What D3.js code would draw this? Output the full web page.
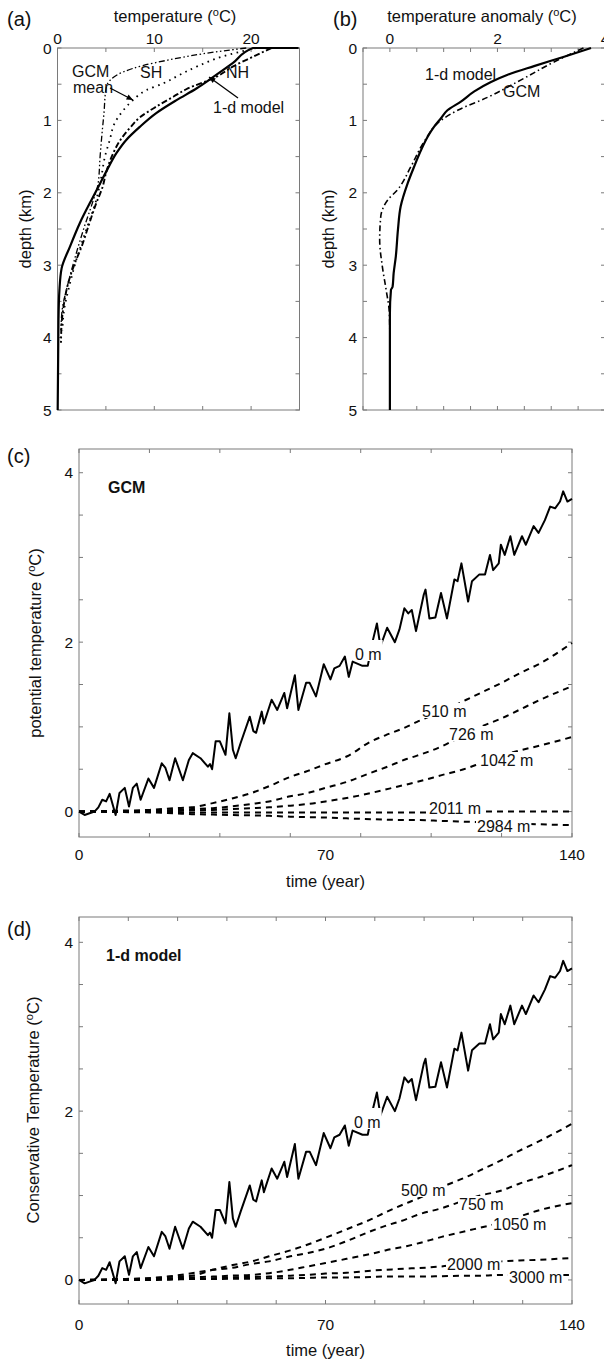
<!DOCTYPE html>
<html><head><meta charset="utf-8">
<script src="https://cdn.jsdelivr.net/npm/d3@7"></script>
<style>body{margin:0;background:#fff}svg{display:block}text{font-family:"Liberation Sans",Arial,Helvetica,sans-serif;fill:#111}</style>
</head><body><svg id="c" width="604" height="1363"></svg>
<script>
// ---------- DATA ----------
// Panel (a): temperature (degC) vs depth (km)
const aModel = [[24.9,0],[20.2,0],[18.1,0.21],[16.1,0.40],[14.35,0.56],[12.3,0.72],[10.2,0.90],[8.5,1.09],[7.1,1.27],[6.1,1.45],[5.1,1.69],[4.4,1.87],[3.7,2.05],[2.3,2.42],[1.3,2.74],[0.43,3.04],[0.2,3.34],[0.1,3.76],[0.02,5.0]];
const aNH = [[22.1,0],[20.2,0.12],[18.2,0.25],[16.4,0.40],[13.3,0.57],[12.0,0.67],[10.2,0.81],[8.5,0.96],[7.5,1.1],[6.5,1.27],[5.6,1.5],[5.0,1.73],[4.7,1.9],[3.9,2.18],[3.1,2.5],[2.5,2.74],[1.8,2.97],[1.1,3.25],[0.67,3.53],[0.43,3.8],[0.36,4.07]];
const aMean = [[20.5,0],[17,0.12],[14.5,0.25],[12.5,0.38],[10.9,0.49],[9.2,0.58],[7.8,0.72],[6.8,0.86],[5.9,1.04],[5.4,1.27],[4.9,1.5],[4.5,1.8],[4.0,2.1],[3.0,2.5],[2.0,2.9],[1.2,3.3],[0.7,3.6],[0.5,3.9]];
const aSH = [[19.5,0],[15,0.08],[11.3,0.17],[8.9,0.24],[6.8,0.33],[5.4,0.45],[5.0,0.57],[4.8,0.9],[4.6,1.18],[4.4,1.5],[4.2,1.87],[3.7,2.1],[2.7,2.5],[1.8,2.9],[1.0,3.3],[0.5,3.6],[0.35,3.9]];
// Panel (b): temperature anomaly (degC) vs depth (km)
const bModel = [[3.74,0],[3.24,0.12],[2.68,0.25],[2.19,0.37],[1.88,0.47],[1.57,0.60],[1.32,0.74],[1.07,0.86],[0.95,0.97],[0.82,1.09],[0.70,1.23],[0.58,1.41],[0.45,1.64],[0.33,1.87],[0.20,2.19],[0.15,2.51],[0.11,2.88],[0.07,3.11],[0.05,3.30],[0.02,3.34],[0.0,3.67],[0.0,5.0]];
const bGCM = [[3.6,0],[3.06,0.19],[2.44,0.44],[1.82,0.68],[1.26,0.86],[0.95,1.0],[0.64,1.29],[0.39,1.64],[0.14,1.96],[-0.04,2.1],[-0.17,2.33],[-0.19,2.65],[-0.14,3.02],[-0.07,3.34],[-0.01,3.66],[0.0,4.03]];
// Panels (c),(d): time (year) and temperature (degC)
const surfT = [0,1.6,3,4.4,5.5,6.6,7.7,8.7,10.4,11.5,13,14.2,15.3,16.4,17.5,19.7,21.3,23.5,24.5,25.7,27.3,29.5,31.2,32.3,34.5,36.6,37.2,37.8,38.8,40,41.6,42.7,43.7,44.5,45.9,48.5,49.5,50.3,51.9,52.5,54.7,56.3,58.3,59.1,61.3,62.3,64.5,65.5,67.3,69.5,71.4,72.5,74,75.5,76.6,77.7,80.5,82,83.5,84.6,85.6,87.5,89.7,91,92.4,93.5,94.5,95.7,97.9,98.4,99.5,101.2,102.8,104.5,106.6,107.5,108.6,110.5,111.6,113.7,115.3,116.7,117.6,119.2,119.8,120.9,122.5,123.6,125.8,126.9,129.1,130.5,132.3,133.8,135.2,136.6,137.5,138.7,140];
const surfV = [0,-0.04,-0.02,0,0.05,0.14,0.12,0.21,-0.04,0.22,0.28,0.06,0.28,0.33,0.14,0.39,0.28,0.57,0.52,0.37,0.63,0.37,0.61,0.69,0.63,0.53,0.56,0.50,0.83,0.83,0.67,1.16,0.73,0.63,0.81,1.12,0.95,0.93,1.18,1.04,1.32,1.2,1.40,1.22,1.61,1.2,1.52,1.52,1.36,1.74,1.56,1.69,1.72,1.83,1.59,1.77,1.72,1.72,2.03,2.22,1.95,2.17,2.0,2.15,2.40,2.34,2.38,2.13,2.56,2.62,2.28,2.29,2.58,2.28,2.74,2.72,2.93,2.48,2.72,2.80,2.80,3.03,2.85,2.93,3.15,3.03,3.25,3.03,3.25,3.15,3.37,3.29,3.44,3.6,3.58,3.66,3.78,3.66,3.69];
const deepT = [0,10,20,27,32,38,43,49,54,60,65,70,76,83,87,93,96,103,110,114,120,125,131,140];
const c510 = [0,0.01,0.02,0.04,0.05,0.10,0.15,0.22,0.30,0.41,0.48,0.56,0.65,0.83,0.90,1.0,1.06,1.18,1.32,1.40,1.52,1.63,1.75,1.99];
const c726 = [0,0.005,0.01,0.02,0.03,0.04,0.06,0.09,0.12,0.18,0.22,0.28,0.35,0.46,0.52,0.62,0.66,0.77,0.92,1.0,1.10,1.20,1.32,1.48];
const c1042 = [0,0,0.005,0.01,0.015,0.02,0.03,0.04,0.05,0.07,0.09,0.12,0.16,0.22,0.26,0.32,0.35,0.43,0.51,0.57,0.66,0.72,0.78,0.88];
const c2011 = [0,0,-0.005,-0.005,-0.01,-0.01,-0.01,-0.01,-0.01,-0.01,-0.01,-0.01,-0.01,-0.01,-0.01,-0.01,-0.01,-0.01,-0.005,0,0,0,0,0];
const c2984 = [0,-0.005,-0.01,-0.02,-0.03,-0.035,-0.04,-0.045,-0.05,-0.06,-0.065,-0.07,-0.08,-0.09,-0.095,-0.10,-0.10,-0.11,-0.12,-0.125,-0.13,-0.14,-0.15,-0.16];
const d500 = [0,0.01,0.02,0.04,0.05,0.12,0.17,0.22,0.28,0.35,0.42,0.50,0.60,0.72,0.80,0.91,0.96,1.10,1.22,1.30,1.42,1.53,1.65,1.85];
const d750 = [0,0.005,0.02,0.05,0.08,0.12,0.14,0.19,0.22,0.28,0.32,0.37,0.46,0.58,0.64,0.72,0.77,0.85,0.95,1.0,1.06,1.14,1.22,1.36];
const d1050 = [0,0,0.01,0.02,0.03,0.04,0.05,0.06,0.08,0.12,0.16,0.20,0.25,0.31,0.35,0.40,0.43,0.51,0.58,0.62,0.68,0.75,0.83,0.91];
const d2000 = [0,0,0.005,0.01,0.01,0.02,0.03,0.035,0.04,0.05,0.06,0.075,0.085,0.11,0.12,0.135,0.14,0.16,0.19,0.20,0.22,0.23,0.24,0.26];
const d3000 = [0,0,0,0.005,0.01,0.01,0.015,0.015,0.02,0.02,0.025,0.03,0.03,0.035,0.04,0.04,0.04,0.045,0.05,0.05,0.06,0.06,0.06,0.06];
const cNames = ['510 m','726 m','1042 m','2011 m','2984 m'];
const dNames = ['500 m','750 m','1050 m','2000 m','3000 m'];

// ---------- DRAW ----------
const svg = d3.select('#c');
const FRAME = '#7a7a7a';
const FS = 15.5, TS = 16.5, LS = 16;

function frame(x, y, xt, yt, o) {
  const [x0, x1] = x.range();
  const top = Math.min(...y.range()), bot = Math.max(...y.range());
  const g = svg.append('g');
  g.append('rect').attr('x', x0).attr('y', top).attr('width', x1 - x0).attr('height', bot - top)
    .attr('fill', 'none').attr('stroke', FRAME).attr('stroke-width', 1);
  xt.forEach(v => {
    g.append('line').attr('x1', x(v)).attr('x2', x(v)).attr('y1', top).attr('y2', top + 4).attr('stroke', FRAME);
    g.append('line').attr('x1', x(v)).attr('x2', x(v)).attr('y1', bot).attr('y2', bot - 4).attr('stroke', FRAME);
  });
  yt.forEach(v => {
    g.append('line').attr('x1', x0).attr('x2', x0 + 4).attr('y1', y(v)).attr('y2', y(v)).attr('stroke', FRAME);
    g.append('line').attr('x1', x1).attr('x2', x1 - 4).attr('y1', y(v)).attr('y2', y(v)).attr('stroke', FRAME);
  });
  o.xl.forEach(v => g.append('text').attr('x', x(v)).attr('y', o.xlY).attr('text-anchor', 'middle').attr('font-size', FS).text(v));
  o.yl.forEach(v => g.append('text').attr('x', x0 - 6).attr('y', y(v) + 5.5).attr('text-anchor', 'end').attr('font-size', FS).text(v));
}
function title(x, y, main, rot, degC) {
  const t = svg.append('text').attr('font-size', TS).attr('text-anchor', 'middle');
  if (rot) t.attr('transform', `translate(${x},${y}) rotate(-90)`); else t.attr('x', x).attr('y', y);
  if (!degC) { t.text(main); return; }
  t.append('tspan').text(main + ' (');
  t.append('tspan').attr('font-size', 11).attr('dy', -6).text('o');
  t.append('tspan').attr('dy', 6).text('C)');
}
function panelLabel(x, y, s) { svg.append('text').attr('x', x).attr('y', y).attr('font-size', 20).text(s); }
function path(data, x, y, dash, w, curve) {
  const l = d3.line().x(d => x(d[0])).y(d => y(d[1])).curve(curve || d3.curveLinear);
  svg.append('path').attr('d', l(data)).attr('fill', 'none').attr('stroke', '#000')
    .attr('stroke-width', w || 2).attr('stroke-dasharray', dash || null).attr('stroke-linejoin', 'round');
}
function label(x, y, s, opts) {
  opts = opts || {};
  const t = svg.append('text').attr('x', x).attr('y', y).attr('font-size', opts.fs || LS).attr('font-weight', opts.bold ? 'bold' : null).text(s);
  if (opts.bg) {
    const b = t.node().getBBox();
    svg.insert('rect', () => t.node()).attr('x', b.x - 1).attr('y', b.y - (opts.padT||0)).attr('width', b.width + 2).attr('height', b.height + (opts.padT||0) - 2).attr('fill', '#fff');
  }
  return t;
}
function arrow(x1, y1, x2, y2) {
  svg.append('line').attr('x1', x1).attr('y1', y1).attr('x2', x2).attr('y2', y2).attr('stroke', '#000').attr('stroke-width', 1.3);
  const a = Math.atan2(y2 - y1, x2 - x1), L = 7, W = 0.4;
  svg.append('path').attr('d', `M${x2},${y2}L${x2 - L*Math.cos(a - W)},${y2 - L*Math.sin(a - W)}L${x2 - L*Math.cos(a + W)},${y2 - L*Math.sin(a + W)}Z`).attr('fill', '#000');
}
const zip = (T, V) => T.map((t, i) => [t, V[i]]);

// Panel (a)
const xa = d3.scaleLinear().domain([0, 25]).range([57.5, 299.5]);
const ya = d3.scaleLinear().domain([0, 5]).range([48, 410]);
frame(xa, ya, d3.range(0, 25.1, 5), d3.range(0, 5.01, 0.5), {xl: [0, 10, 20], xlY: 43.5, yl: [0, 1, 2, 3, 4, 5]});
path(aSH, xa, ya, '6,2.5,1.5,2.5,1.5,2.5', 1.3, d3.curveMonotoneY);
path(aMean, xa, ya, '1.6,4.5', 1.8, d3.curveMonotoneY);
path(aNH, xa, ya, '6,2.5,2,2.5', 1.9, d3.curveMonotoneY);
path(aModel, xa, ya, null, 2.2, d3.curveMonotoneY);
title(175, 22, 'temperature', false, true);
title(31, 229, 'depth (km)', true, false);
panelLabel(7, 26, '(a)');
label(72, 77, 'GCM'); label(73, 93, 'mean');
label(140, 78, 'SH'); label(226, 78, 'NH'); label(213, 113, '1-d model');
arrow(110, 88, 133, 100); arrow(238, 98, 209, 77);

// Panel (b)
const xb = d3.scaleLinear().domain([-0.5, 4]).range([363, 605]);
const yb = d3.scaleLinear().domain([0, 5]).range([48, 410]);
frame(xb, yb, d3.range(-0.5, 4.01, 0.5), d3.range(0, 5.01, 0.5), {xl: [0, 2, 4], xlY: 43.5, yl: [0, 1, 2, 3, 4, 5]});
path(bGCM, xb, yb, '6,3,1.5,3', 1.6, d3.curveMonotoneY);
path(bModel, xb, yb, null, 2.2, d3.curveMonotoneY);
title(482, 22, 'temperature anomaly', false, true);
title(334, 229, 'depth (km)', true, false);
panelLabel(333, 26, '(b)');
label(425, 80, '1-d model'); label(503, 97, 'GCM');

// Panel (c)
const xc = d3.scaleLinear().domain([0, 140]).range([79, 572]);
const yc = d3.scaleLinear().domain([-0.3, 4.28]).range([837, 449]);
frame(xc, yc, d3.range(0, 141, 20), d3.range(0, 4.01, 0.5), {xl: [0, 70, 140], xlY: 860, yl: [0, 2, 4]});
const surf = zip(surfT, surfV);
[c510, c726, c1042, c2011, c2984].forEach(s => path(zip(deepT, s), xc, yc, '6,5', 2, d3.curveMonotoneX));
path(surf, xc, yc, null, 2);
label(355, 660, '0 m', {bg: true, padT: 6});
const cPos = [[422, 717], [449, 740], [480, 766], [429, 814], [477, 832]];
cNames.forEach((n, i) => label(cPos[i][0], cPos[i][1], n, {bg: true}));
label(108, 493, 'GCM', {bold: true, fs: 16});
panelLabel(7, 463, '(c)');
title(xc(70), 887, 'time (year)', false, false);
title(41, 643, 'potential temperature', true, true);

// Panel (d)
const xd = d3.scaleLinear().domain([0, 140]).range([79, 572]);
const yd = d3.scaleLinear().domain([-0.285, 4.3]).range([1304, 917]);
frame(xd, yd, d3.range(0, 141, 14), d3.range(0, 4.01, 0.5), {xl: [0, 70, 140], xlY: 1330, yl: [0, 2, 4]});
[d500, d750, d1050, d2000, d3000].forEach(s => path(zip(deepT, s), xd, yd, '6,5', 2, d3.curveMonotoneX));
path(surf, xd, yd, null, 2);
label(354, 1128, '0 m', {bg: true, padT: 6});
const dPos = [[401, 1196], [459, 1210], [493, 1230], [447, 1270], [509, 1283]];
dNames.forEach((n, i) => label(dPos[i][0], dPos[i][1], n, {bg: true}));
label(106, 961, '1-d model', {bold: true, fs: 16});
panelLabel(7, 936, '(d)');
title(xd(70), 1356, 'time (year)', false, false);
title(39, 1110, 'Conservative Temperature', true, true);
</script></body></html>
